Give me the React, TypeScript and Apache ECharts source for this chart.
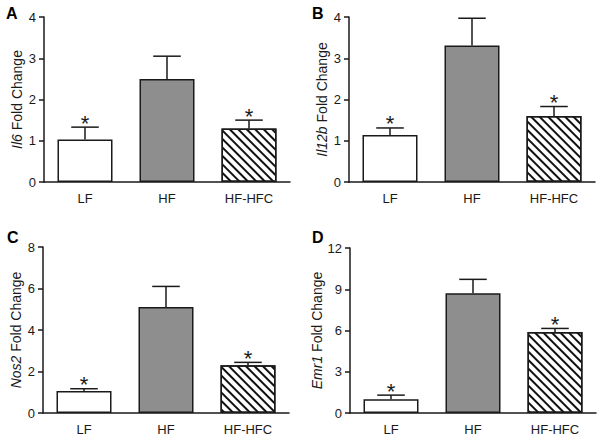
import { useEffect, useRef } from 'react';
import * as echarts from 'echarts';

const categories = ['LF', 'HF', 'HF-HFC'];
const genes = ['Il6', 'Il12b', 'Nos2', 'Emr1'];
const panelLetters = ['A', 'B', 'C', 'D'];

const il6Means = [1.03, 2.5, 1.3];
const il6Upper = [1.33, 3.05, 1.5];
const il12bMeans = [1.14, 3.31, 1.6];
const il12bUpper = [1.31, 3.97, 1.83];
const nos2Means = [1.06, 5.11, 2.3];
const nos2Upper = [1.17, 6.1, 2.44];
const emr1Means = [1.0, 8.71, 5.9];
const emr1Upper = [1.3, 9.72, 6.15];
const starred = [1, 0, 1];

const yMaxes = [4, 4, 8, 12];
const yIntervals = [1, 1, 2, 3];

const allMeans = [il6Means, il12bMeans, nos2Means, emr1Means];
const allUpper = [il6Upper, il12bUpper, nos2Upper, emr1Upper];

const FONT = '"Liberation Sans", Arial, Helvetica, sans-serif';
const INK = '#1a1a1a';

const grids = [
  { left: 44, top: 17, width: 246, height: 165 },
  { left: 349, top: 17, width: 246, height: 165 },
  { left: 43, top: 247, width: 246, height: 166 },
  { left: 350, top: 248, width: 246, height: 165 },
];
const letterPos = [
  [6, 5],
  [312, 5],
  [7, 229],
  [312, 229],
];

const hatch = {
  symbol: 'rect',
  symbolSize: 1,
  color: '#111',
  dashArrayX: [1, 0],
  dashArrayY: [2, 4],
  rotation: Math.PI / 4,
};

export default function App() {
  const ref = useRef<HTMLDivElement>(null);
  useEffect(() => {
    if (!ref.current) return;
    const chart = echarts.init(ref.current, null, { renderer: 'svg' });
    const series: any[] = [];
    genes.forEach((g, i) => {
      series.push({
        type: 'bar',
        xAxisIndex: i,
        yAxisIndex: i,
        barWidth: 55,
        data: allMeans[i].map((v, k) => ({
          value: v,
          itemStyle: {
            color: k === 1 ? '#8e8e8e' : '#ffffff',
            borderColor: INK,
            borderWidth: 1.5,
            decal: k === 2 ? hatch : undefined,
          },
        })),
      });
      series.push({
        type: 'custom',
        xAxisIndex: i,
        yAxisIndex: i,
        z: 5,
        encode: { x: 0, y: [1, 2] },
        data: allMeans[i].map((v, k) => [k, v, allUpper[i][k], starred[k]]),
        renderItem: (params: any, api: any) => {
          const idx = api.value(0);
          const mean = api.value(1);
          const upper = api.value(2);
          const star = api.value(3);
          const base = api.coord([idx, mean]);
          const top = api.coord([idx, upper]);
          const band = api.size([1, 0])[0];
          const half = band * 0.168;
          const st = { stroke: INK, lineWidth: 1.5 };
          const children: any[] = [
            { type: 'line', shape: { x1: base[0], y1: base[1], x2: top[0], y2: top[1] }, style: st },
            { type: 'line', shape: { x1: top[0] - half, y1: top[1], x2: top[0] + half, y2: top[1] }, style: st },
          ];
          if (star) {
            children.push({
              type: 'text',
              x: top[0],
              y: top[1] - 4,
              style: { text: '*', fontSize: 22, fontFamily: FONT, fill: INK, align: 'center', verticalAlign: 'middle' },
            });
          }
          return { type: 'group', children };
        },
      });
    });

    chart.setOption({
      animation: false,
      backgroundColor: '#ffffff',
      grid: grids.map((g) => ({ ...g, containLabel: false })),
      xAxis: genes.map((g, i) => ({
        type: 'category',
        gridIndex: i,
        data: categories,
        axisLine: { lineStyle: { color: INK, width: 1.5 } },
        axisTick: { alignWithLabel: true, length: 5, lineStyle: { color: INK, width: 1.5 } },
        axisLabel: { color: INK, fontSize: 13, fontFamily: FONT, margin: 10 },
        splitLine: { show: false },
      })),
      yAxis: genes.map((g, i) => ({
        type: 'value',
        gridIndex: i,
        min: 0,
        max: yMaxes[i],
        interval: yIntervals[i],
        name: `{i|${g}} Fold Change`,
        nameLocation: 'middle',
        nameRotate: 90,
        nameGap: 20,
        nameTextStyle: {
          color: INK,
          fontSize: 14,
          fontFamily: FONT,
          rich: { i: { fontStyle: 'italic', fontSize: 14, fontFamily: FONT, color: INK } },
        },
        axisLine: { show: true, lineStyle: { color: INK, width: 1.5 } },
        axisTick: { show: true, length: 5, lineStyle: { color: INK, width: 1.5 } },
        axisLabel: { color: INK, fontSize: 13, fontFamily: FONT, margin: 8 },
        splitLine: { show: false },
      })),
      graphic: panelLetters.map((l, i) => ({
        type: 'text',
        left: letterPos[i][0],
        top: letterPos[i][1],
        style: { text: l, fontSize: 16, fontWeight: 'bold', fontFamily: FONT, fill: '#000' },
      })),
      series,
    });
    return () => chart.dispose();
  }, []);
  return <div ref={ref} style={{ position: 'fixed', left: 0, top: 0, width: 601, height: 440 }} />;
}
